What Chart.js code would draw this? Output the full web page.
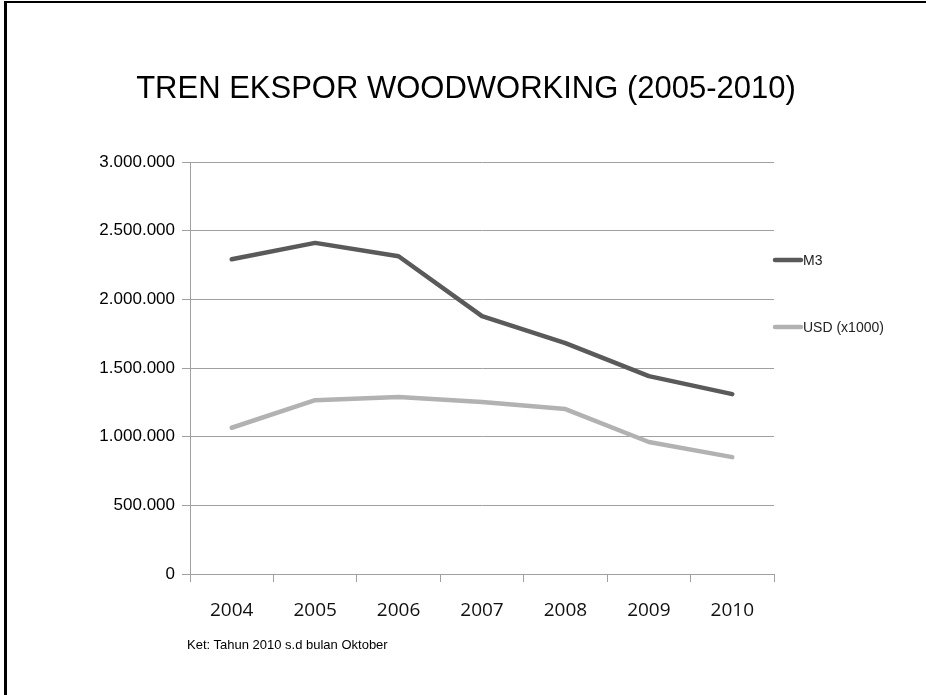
<!DOCTYPE html>
<html>
<head>
<meta charset="utf-8">
<script src="https://cdn.jsdelivr.net/npm/chart.js@4.4.1/dist/chart.umd.min.js"></script>
<style>
  html, body { margin: 0; padding: 0; background: #fff; }
  #wrap { position: relative; width: 926px; height: 695px; overflow: hidden; }
  #frame { position: absolute; left: 4px; top: 1px; right: -10px; bottom: -10px;
           border-left: 3px solid #000; border-top: 2.5px solid #000; }
  #title { position: absolute; left: 0; width: 932px; top: 72px; text-align: center;
           font: 31px/31px "Liberation Sans", Arial, sans-serif; color: #000; white-space: nowrap; }
  #note { position: absolute; left: 187px; top: 638px; font: 13px/13px "Liberation Sans", Arial, sans-serif; color: #000; }
</style>
</head>
<body>
<div id="wrap">
  <canvas id="woodChart" width="926" height="695"></canvas>
  <div id="frame"></div>
  <div id="title">TREN EKSPOR WOODWORKING (2005-2010)</div>
  <div id="note">Ket: Tahun 2010 s.d bulan Oktober</div>
</div>
<script>
  /* Data */
  var years = ['2004', '2005', '2006', '2007', '2008', '2009', '2010'];
  var seriesNames = ['M3', 'USD (x1000)'];
  var m3Values = [2292000, 2411000, 2314000, 1878000, 1681000, 1441000, 1310000];
  var usdValues = [1065000, 1266000, 1288000, 1252000, 1201000, 961000, 851000];
  var yTicks = [0, 500000, 1000000, 1500000, 2000000, 2500000, 3000000];

  function dotThousands(v) {
    return String(v).replace(/\B(?=(\d{3})+(?!\d))/g, '.');
  }

  /* Legend drawn at the right, like the original slide */
  var sideLegend = {
    id: 'sideLegend',
    afterDraw: function(chart) {
      var ctx = chart.ctx;
      var rows = [260, 327];
      chart.data.datasets.forEach(function(ds, i) {
        var y = rows[i];
        ctx.save();
        ctx.strokeStyle = ds.borderColor;
        ctx.lineWidth = 4.5;
        ctx.lineCap = 'round';
        ctx.beginPath();
        ctx.moveTo(775, y);
        ctx.lineTo(801, y);
        ctx.stroke();
        ctx.fillStyle = '#222';
        ctx.font = '14px "Liberation Sans", Arial, sans-serif';
        ctx.textBaseline = 'middle';
        ctx.fillText(ds.label, 803, y + 1);
        ctx.restore();
      });
    }
  };

  var ctx = document.getElementById('woodChart').getContext('2d');
  new Chart(ctx, {
    type: 'line',
    data: {
      labels: years,
      datasets: [{
        label: seriesNames[0],
        data: m3Values,
        borderColor: '#5a5a5a',
        borderWidth: 4.5,
        borderCapStyle: 'round',
        borderJoinStyle: 'round',
        pointRadius: 0,
        tension: 0
      }, {
        label: seriesNames[1],
        data: usdValues,
        borderColor: '#b2b2b2',
        borderWidth: 4.5,
        borderCapStyle: 'round',
        borderJoinStyle: 'round',
        pointRadius: 0,
        tension: 0
      }]
    },
    options: {
      responsive: false,
      animation: false,
      layout: { padding: { left: 0, right: 152, top: 162, bottom: 0 } },
      plugins: {
        legend: { display: false },
        tooltip: { enabled: false },
        title: { display: false }
      },
      scales: {
        x: {
          offset: true,
          grid: { offset: true, drawOnChartArea: false, color: '#a0a0a0', tickLength: 8 },
          border: { color: '#a0a0a0' },
          ticks: {
            color: '#111',
            padding: 17,
            font: { family: '"Open Sans", sans-serif', size: 19 }
          },
          afterFit: function(scale) { scale.height = 121; }
        },
        y: {
          min: 0,
          max: 3000000,
          afterBuildTicks: function(scale) {
            scale.ticks = yTicks.map(function(v) { return { value: v }; });
          },
          grid: { color: '#a0a0a0', tickLength: 8 },
          border: { color: '#a0a0a0' },
          ticks: {
            color: '#000',
            padding: 7,
            font: { family: '"Liberation Sans", Arial, sans-serif', size: 17 },
            callback: function(v) { return dotThousands(v); }
          },
          afterFit: function(scale) { scale.width = 190; }
        }
      }
    },
    plugins: [sideLegend]
  });
</script>
</body>
</html>
